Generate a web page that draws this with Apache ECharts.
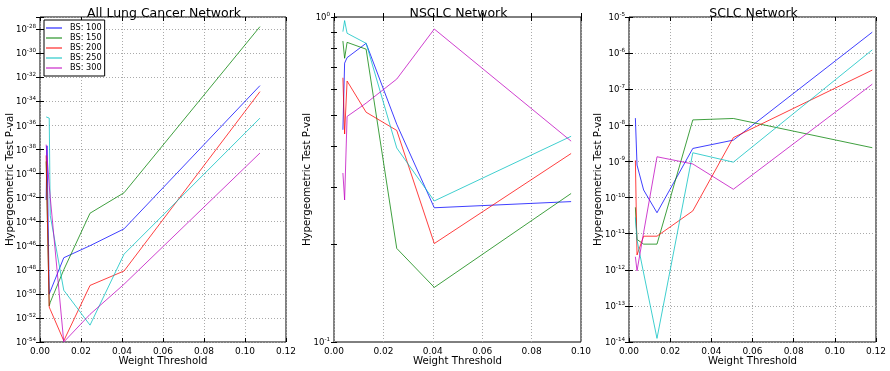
<!DOCTYPE html>
<html>
<head>
<meta charset="utf-8">
<script src="https://cdn.jsdelivr.net/npm/echarts@6/dist/echarts.min.js"></script>
<style>
  html, body { margin: 0; padding: 0; background: #fff; }
  #chart { width: 890px; height: 371px; }
</style>
</head>
<body>
<div id="chart"></div>
<script>
// series names / colours
const seriesNames = ['BS: 100', 'BS: 150', 'BS: 200', 'BS: 250', 'BS: 300'];
const seriesColors = ['#0000ff', '#008000', '#ff0000', '#00bfbf', '#bf00bf'];

// All Lung Cancer Network (values are log10 of the p-value)
const allX = [0.0030, 0.0034, 0.0045, 0.0050, 0.0116, 0.0244, 0.0410, 0.1073];
const allBS100 = [-42.2, -37.7, -50.0, -49.8, -47.0, -46.0, -44.6, -32.7];
const allBS150 = [-39.0, -39.0, -51.0, -50.7, -48.0, -43.3, -41.6, -27.8];
const allBS200 = [-38.5, -38.5, -51.1, -51.3, -53.9, -49.3, -48.1, -33.2];
const allBS250 = [-35.3, -35.3, -35.4, -43.5, -49.7, -52.6, -46.7, -35.4];
const allBS300 = [-37.6, -37.6, -41.0, -42.0, -54.0, -51.7, -49.2, -38.3];

// NSCLC Network
const nsX = [0.0036, 0.0043, 0.0053, 0.0130, 0.0254, 0.0406, 0.0960];
const nsBS100 = [-0.347, -0.142, -0.125, -0.081, -0.330, -0.587, -0.568];
const nsBS150 = [-0.074, -0.127, -0.078, -0.099, -0.712, -0.832, -0.543];
const nsBS200 = [-0.187, -0.360, -0.197, -0.293, -0.349, -0.697, -0.420];
const nsBS250 = [-0.045, -0.011, -0.050, -0.081, -0.403, -0.566, -0.367];
const nsBS300 = [-0.480, -0.563, -0.306, -0.265, -0.191, -0.037, -0.382];

// SCLC Network
const scX = [0.0031, 0.0039, 0.0071, 0.0136, 0.0310, 0.0507, 0.1182];
const scBS100 = [-7.80, -9.10, -9.79, -10.42, -8.64, -8.41, -5.42];
const scBS150 = [-10.27, -11.16, -11.29, -11.29, -7.85, -7.81, -8.62];
const scBS200 = [-8.97, -11.59, -11.07, -11.07, -10.37, -8.34, -6.47];
const scBS250 = [-10.55, -11.18, -12.09, -13.90, -8.76, -9.02, -5.91];
const scBS300 = [-11.64, -12.03, -10.97, -8.87, -9.07, -9.77, -6.86];

// minor ticks of the NSCLC log axis
const nsMinorTicks = [-1, -0.699, -0.523, -0.398, -0.301, -0.222, -0.155, -0.097, -0.046, 0];

const FONT = 'DejaVu Sans';
const chart = echarts.init(document.getElementById('chart'));

const panels = [
  { title: 'All Lung Cancer Network', x: allX, ys: [allBS100, allBS150, allBS200, allBS250, allBS300],
    left: 40, top: 17, width: 246, height: 325, xMax: 0.12, yMin: -54, yMax: -27, yInt: 2, nameGap: 25 },
  { title: 'NSCLC Network', x: nsX, ys: [nsBS100, nsBS150, nsBS200, nsBS250, nsBS300],
    left: 334, top: 17, width: 247, height: 326, xMax: 0.10, yMin: -1, yMax: 0, yInt: 1, nameGap: 22 },
  { title: 'SCLC Network', x: scX, ys: [scBS100, scBS150, scBS200, scBS250, scBS300],
    left: 629, top: 17, width: 247, height: 325, xMax: 0.12, yMin: -14, yMax: -5, yInt: 1, nameGap: 26 }
];

function expLabel(v) {
  if (Math.abs(v - Math.round(v)) > 1e-6) return '';
  if (Math.round(v) === -27) return '';
  return '{b|10}{s|' + Math.round(v) + '}';
}

// thin line legend icon (tiny corner dots keep the box 10px tall)
const lineIcon = 'path://M0,4.4H20V5.6H0Z M0,0H0.01V0.01H0Z M0,9.99H0.01V10H0Z';

const grid = [], xAxis = [], yAxis = [], series = [], title = [];
panels.forEach((p, i) => {
  grid.push({ left: p.left, top: p.top, width: p.width, height: p.height,
    show: true, borderColor: '#000', borderWidth: 1, backgroundColor: '#fff' });
  title.push({ text: p.title, left: p.left + p.width / 2 - 4, top: 2, textAlign: 'center',
    textStyle: { fontFamily: FONT, fontSize: 12.5, fontWeight: 'normal', color: '#000' } });

  const tick = { show: true, inside: true, length: 4, lineStyle: { color: '#000', width: 1 } };
  const grid_line = { show: true, lineStyle: { color: '#aaa', type: [1, 2], width: 1 } };

  xAxis.push({
    gridIndex: i, type: 'value', min: 0, max: p.xMax, interval: 0.02,
    name: 'Weight Threshold', nameLocation: 'middle', nameGap: 14, nameMoveOverlap: false,
    nameTextStyle: { fontFamily: FONT, fontSize: 10.2, color: '#000' },
    axisLine: { show: false }, axisTick: tick, splitLine: grid_line,
    axisLabel: { fontFamily: FONT, fontSize: 9, color: '#000', margin: 5,
      formatter: v => v.toFixed(2) }
  });
  xAxis.push({
    gridIndex: i, type: 'value', position: 'top', min: 0, max: p.xMax, interval: 0.02,
    axisLine: { show: false }, axisTick: tick, splitLine: { show: false }, axisLabel: { show: false }
  });

  const yTick = i === 1 ? Object.assign({}, tick, { length: 3, customValues: nsMinorTicks }) : tick;
  const yLabel = { fontFamily: FONT, color: '#000', margin: 4, formatter: expLabel,
    rich: {
      b: { fontFamily: FONT, fontSize: 8.5, color: '#000', lineHeight: 11, verticalAlign: 'bottom' },
      s: { fontFamily: FONT, fontSize: 5.6, color: '#000', lineHeight: 6, verticalAlign: 'top' }
    } };
  yAxis.push({
    gridIndex: i, type: 'value', min: p.yMin, max: p.yMax, interval: p.yInt,
    name: 'Hypergeometric Test P-val', nameLocation: 'middle', nameGap: p.nameGap,
    nameMoveOverlap: false,
    nameTextStyle: { fontFamily: FONT, fontSize: 10.2, color: '#000' },
    axisLine: { show: false }, axisTick: yTick,
    splitLine: i === 1 ? { show: false } : grid_line,
    axisLabel: yLabel
  });
  yAxis.push({
    gridIndex: i, type: 'value', position: 'right', min: p.yMin, max: p.yMax, interval: p.yInt,
    axisLine: { show: false }, axisTick: yTick, splitLine: { show: false }, axisLabel: { show: false }
  });

  p.ys.forEach((ys, k) => {
    series.push({
      name: seriesNames[k], type: 'line', xAxisIndex: i * 2, yAxisIndex: i * 2,
      data: p.x.map((x, j) => [x, ys[j]]),
      symbol: 'none', clip: true, color: seriesColors[k],
      lineStyle: { width: 1, color: seriesColors[k], opacity: 0.75 }
    });
  });
});

chart.setOption({
  animation: false,
  backgroundColor: '#fff',
  title: title,
  legend: {
    data: seriesNames.map(n => ({ name: n, icon: lineIcon })),
    orient: 'vertical', left: 44, top: 20,
    padding: [4, 3, 4, 2], itemGap: 2, itemWidth: 16, itemHeight: 10,
    borderColor: '#000', borderWidth: 1, backgroundColor: '#fff', borderRadius: 0,
    textStyle: { fontFamily: FONT, fontSize: 8.2, color: '#000', padding: [0, 0, 0, 3] }
  },
  grid: grid,
  xAxis: xAxis,
  yAxis: yAxis,
  series: series
});
</script>
</body>
</html>
